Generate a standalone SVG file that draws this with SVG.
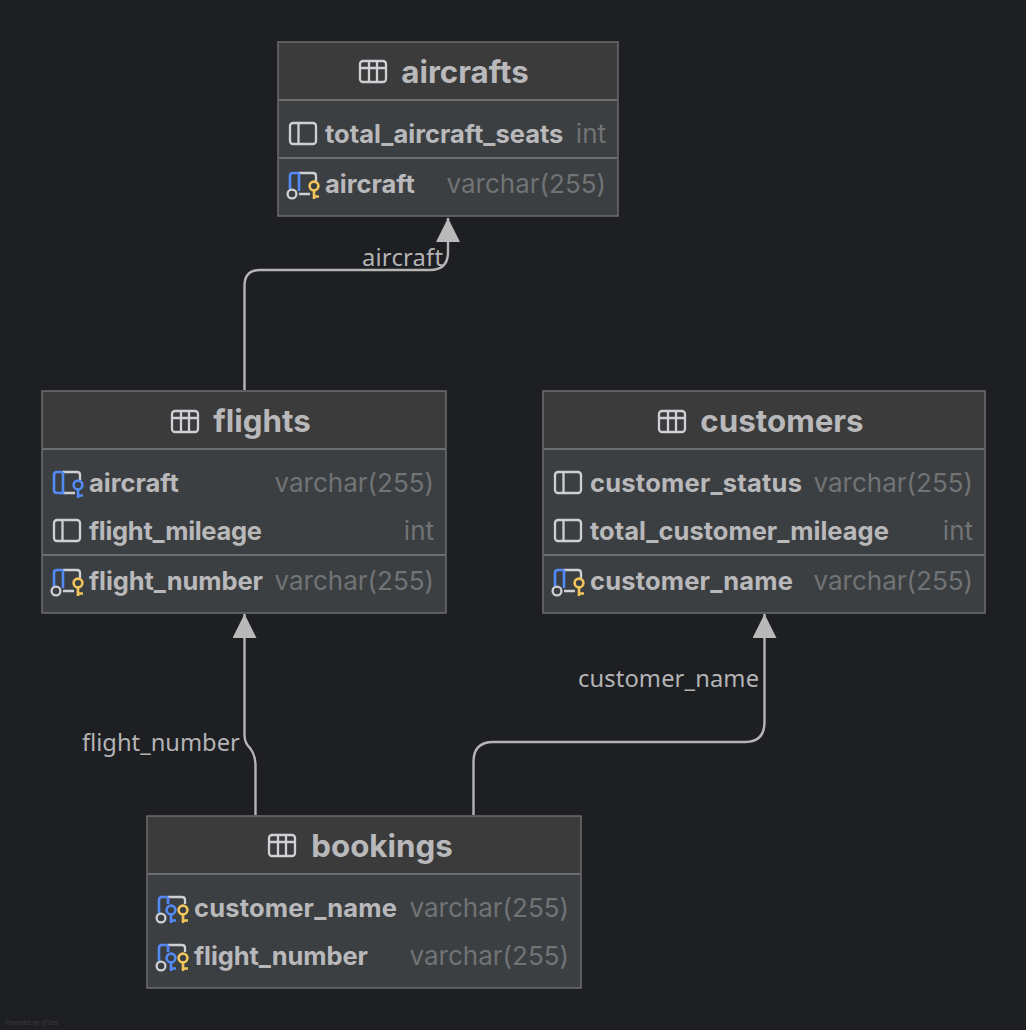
<svg xmlns="http://www.w3.org/2000/svg" width="1026" height="1030" viewBox="0 0 1026 1030">
<style>
.box{fill:#3c3f41;stroke:#6e6e6e;stroke-width:1.5}
.hd{fill:#3b3b3b}
.sep{stroke:#6e6e6e;stroke-width:2;fill:none}
.title{font:700 31.300px Inter,"Liberation Sans",sans-serif;fill:#b9b9bc;text-anchor:middle}
.name{font:700 25.500px Inter,"Liberation Sans",sans-serif;fill:#b9b9bc}
.type{font:400 26px Inter,"Liberation Sans",sans-serif;fill:#717375;text-anchor:end}
.lbl{font:400 23.700px "Noto Sans","DejaVu Sans",sans-serif;fill:#b4b4b6}
.edge{fill:none;stroke:#b5b5b5;stroke-width:2.4}
.ic{fill:none;stroke:#ced0d6;stroke-width:2.3}
.bl{fill:none;stroke:#548af7;stroke-width:2.6}
.yl{fill:none;stroke:#f2c55c;stroke-width:2.6}
</style>
<defs>
<marker id="arrU" markerUnits="userSpaceOnUse" markerWidth="24" markerHeight="25" refX="12" refY="0" orient="0" viewBox="0 0 24 25"><path d="M12 0L24 24H0Z" fill="#b9b9b9"/></marker>
<g id="tbl"><rect x="1" y="1" width="26" height="21" rx="3" class="ic"/><path d="M1 8H27M10 8V22M18 8V22M10 1V8M18 1V8" class="ic"/></g>
<g id="col"><rect x="1" y="1" width="26" height="21" rx="3" class="ic"/><path d="M9.500 1V22" class="ic"/></g>
<g id="fk"><path d="M10 22H22M10 1H24Q27 1 27 4V9" class="ic"/><path d="M10 1H4Q1 1 1 4V19Q1 22 4 22H10V1" class="bl"/><circle cx="25" cy="14" r="4.400" class="bl"/><path d="M25 18.400V27M25 24.500H30" class="bl"/></g>
<g id="pk"><path d="M10 22H21M10 1H24Q27 1 27 4V9" class="ic"/><path d="M10 1H4Q1 1 1 4V17M10 1V19" class="bl"/><circle cx="3" cy="22" r="4.400" class="ic"/><circle cx="25" cy="14" r="4.400" class="yl"/><path d="M25 18.400V27M25 24.500H30" class="yl"/></g>
<g id="pf"><path d="M10 1H24Q27 1 27 4V8" class="ic"/><path d="M10 1H4Q1 1 1 4V17M10 1V8" class="bl"/><circle cx="3" cy="22" r="4.400" class="ic"/><circle cx="13" cy="14" r="4.400" class="bl"/><path d="M13 18.400V27M13 24.500H18" class="bl"/><circle cx="25" cy="14" r="4.400" class="yl"/><path d="M25 18.400V27M25 24.500H30" class="yl"/></g>
</defs>
<rect width="1026" height="1030" fill="#1e1f22"/>
<g id="connectors">
<path class="edge" marker-end="url(#arrU)" d="M244.500 390V286Q244.500 270 260 270H430Q448 270 448 252V218"/>
<path class="edge" marker-end="url(#arrU)" d="M255.500 815V766Q255.500 755 250 748Q244.500 743 244.500 735V614"/>
<path class="edge" marker-end="url(#arrU)" d="M473.500 815V762Q473.500 742 493 742H745Q764.500 742 764.500 722V614"/>
<text class="lbl" x="362" y="266" textLength="81" lengthAdjust="spacing">aircraft</text>
<text class="lbl" x="82" y="751">flight_number</text>
<text class="lbl" x="578" y="687" textLength="181" lengthAdjust="spacing">customer_name</text>
</g>
<g id="aircrafts">
<rect class="box" x="278" y="42" width="340" height="174"/>
<rect class="hd" x="279" y="43" width="338" height="57"/>
<path class="sep" d="M279 100H617M279 158H617"/>
<use href="#tbl" x="359" y="60"/>
<text class="title" x="465" y="83">aircrafts</text>
<use href="#col" x="289" y="122"/>
<text class="name" x="325" y="143">total_aircraft_seats</text>
<text class="type" x="606" y="143">int</text>
<use href="#pk" x="289" y="172"/>
<text class="name" x="325" y="193">aircraft</text>
<text class="type" x="606" y="193">varchar(255)</text>
</g>
<g id="flights">
<rect class="box" x="42" y="391" width="404" height="222"/>
<rect class="hd" x="43" y="392" width="402" height="57"/>
<path class="sep" d="M43 449H445M43 555H445"/>
<use href="#tbl" x="171" y="410"/>
<text class="title" x="262" y="432">flights</text>
<use href="#fk" x="53" y="471"/>
<text class="name" x="89" y="492">aircraft</text>
<text class="type" x="434" y="492">varchar(255)</text>
<use href="#col" x="53" y="519"/>
<text class="name" x="89" y="540" textLength="173" lengthAdjust="spacing">flight_mileage</text>
<text class="type" x="434" y="540">int</text>
<use href="#pk" x="53" y="569"/>
<text class="name" x="89" y="590" textLength="174" lengthAdjust="spacing">flight_number</text>
<text class="type" x="434" y="590">varchar(255)</text>
</g>
<g id="customers">
<rect class="box" x="543" y="391" width="442" height="222"/>
<rect class="hd" x="544" y="392" width="440" height="57"/>
<path class="sep" d="M544 449H984M544 555H984"/>
<use href="#tbl" x="658" y="410"/>
<text class="title" x="782" y="432">customers</text>
<use href="#col" x="554" y="471"/>
<text class="name" x="590" y="492" textLength="212" lengthAdjust="spacing">customer_status</text>
<text class="type" x="973" y="492">varchar(255)</text>
<use href="#col" x="554" y="519"/>
<text class="name" x="590" y="540">total_customer_mileage</text>
<text class="type" x="973" y="540">int</text>
<use href="#pk" x="554" y="569"/>
<text class="name" x="590" y="590" textLength="203" lengthAdjust="spacing">customer_name</text>
<text class="type" x="973" y="590">varchar(255)</text>
</g>
<g id="bookings">
<rect class="box" x="147" y="816" width="434" height="172"/>
<rect class="hd" x="148" y="817" width="432" height="57"/>
<path class="sep" d="M148 874H580"/>
<use href="#tbl" x="268" y="834"/>
<text class="title" x="382" y="857">bookings</text>
<use href="#pf" x="158" y="896"/>
<text class="name" x="194" y="917" textLength="203" lengthAdjust="spacing">customer_name</text>
<text class="type" x="569" y="917">varchar(255)</text>
<use href="#pf" x="158" y="944"/>
<text class="name" x="194" y="965" textLength="174" lengthAdjust="spacing">flight_number</text>
<text class="type" x="569" y="965">varchar(255)</text>
</g>
<text x="5" y="1025" font-family="Liberation Sans, sans-serif" font-size="6.500" fill="#3a3b3e">Powered by yFiles</text>
</svg>
